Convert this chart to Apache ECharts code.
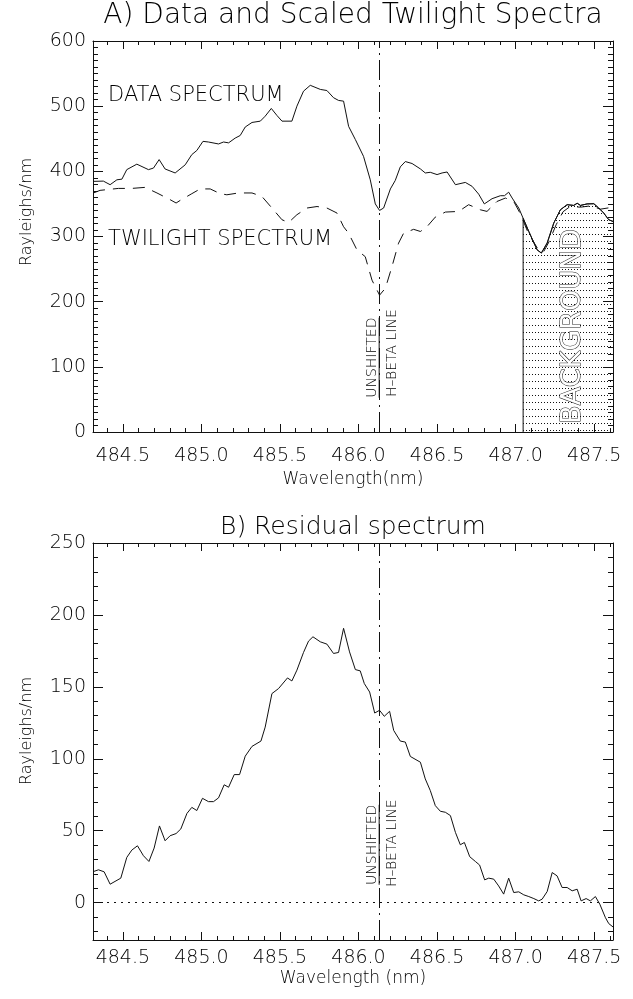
<!DOCTYPE html>
<html><head><meta charset="utf-8">
<script src="https://cdn.jsdelivr.net/npm/echarts@6.0.0/dist/echarts.min.js"></script>
<style>html,body{margin:0;padding:0;background:#fff}#c{width:633px;height:999px}</style>
</head><body><div id="c"></div>
<script>
// ---------------- data ----------------
const xTicks = [484.5, 485.0, 485.5, 486.0, 486.5, 487.0, 487.5];
const yTicksA = [0, 100, 200, 300, 400, 500, 600];
const yTicksB = [0, 50, 100, 150, 200, 250];
const HBETA = 486.133;
const BG_START = 487.048;

const dataWl = [484.313,484.376,484.419,484.462,484.494,484.525,484.589,484.663,484.695,484.731,484.769,484.833,484.897,484.939,484.971,485.010,485.045,485.109,485.141,485.173,485.215,485.247,485.279,485.322,485.375,485.406,485.445,485.481,485.513,485.576,485.608,485.650,485.693,485.757,485.799,485.841,485.873,485.905,485.937,485.980,486.032,486.075,486.107,486.134,486.160,486.203,486.234,486.266,486.298,486.341,486.394,486.425,486.457,486.500,486.532,486.564,486.617,486.680,486.723,486.765,486.801,486.850,486.903,486.929,486.956,486.978,487.020,487.048,487.084,487.137,487.164,487.201,487.243,487.285,487.328,487.370,487.392,487.413,487.455,487.498,487.529,487.561,487.593,487.621];
const dataVal = [384.6,385,379.5,387,388,402.6,411,402.6,405,418,403.6,397.5,410,425.7,432,446,445,442,445,443.7,451,455,468,475,477,484.6,496.5,485.7,477,477,500,523,532,525.7,524,513,508.8,507.7,469,448.8,423,387,350,340,343.7,373,386,406.8,415,412,403.7,397.5,398.5,395,397.5,399,379.5,383,377,365,350,358,362.6,362.6,368,359,343.7,328,307.7,279.5,274.6,290,320.6,341,348.8,347.7,351,347.7,350,350.3,343.7,336,325.7,323];

const twiWl = [484.313,484.355,484.472,484.557,484.642,484.717,484.801,484.839,484.865,484.939,484.992,485.056,485.120,485.162,485.236,485.322,485.385,485.449,485.513,485.555,485.608,485.672,485.736,485.799,485.863,485.905,485.937,485.990,486.043,486.086,486.134,486.171,486.213,486.255,486.287,486.351,486.394,486.436,486.489,486.553,486.638,486.701,486.776,486.818,486.882,486.935,486.988,487.030,487.081,487.139,487.177,487.213,487.258,487.302,487.347,487.413,487.477,487.541,487.621];
const twiVal = [366.8,370.8,373.8,373.8,375.4,366.8,356.5,351.4,355.4,365.7,373,373,365.7,364,366.8,366.8,361.5,343.7,325.7,321.5,333.4,343.7,346,343.7,336,315,305,279.5,269,233,210,220.6,253.8,289.8,305,311,307.7,315,329.8,337.5,338.5,348.8,341,338.5,353.8,359,353.8,335,305,282,276,292,318,338,346,345,347,342,345];

const resWl = [484.313,484.345,484.381,484.419,484.487,484.525,484.557,484.593,484.631,484.666,484.699,484.733,484.769,484.801,484.839,484.869,484.908,484.939,484.971,485.007,485.045,485.077,485.109,485.145,485.173,485.209,485.243,485.279,485.322,485.379,485.406,485.449,485.491,485.548,485.576,485.608,485.650,485.682,485.710,485.757,485.799,485.841,485.873,485.905,485.943,485.980,486.011,486.037,486.071,486.103,486.134,486.164,486.198,486.224,486.266,486.298,486.330,486.394,486.425,486.457,486.489,486.521,486.553,486.585,486.617,486.648,486.674,486.708,486.744,486.771,486.803,486.829,486.861,486.892,486.924,486.956,486.988,487.020,487.052,487.084,487.116,487.147,487.169,487.201,487.233,487.264,487.296,487.328,487.360,487.392,487.417,487.449,487.476,487.508,487.536,487.572,487.593,487.621];
const resVal = [21.6,22.8,21.4,12.8,17,31.4,36.5,39.5,32.6,28.6,37.9,53.3,43,46.5,48,51.2,62,66.2,64,72.5,70.2,70.2,72.8,81.9,80.2,89,89,101.8,108.6,112.3,122,145.3,148.8,156.2,154.1,161.6,173.9,181.8,184.8,181.3,179.7,173.2,173.9,190.7,174.3,162,161.1,152.3,146.4,131.8,133.7,129.5,133,119.7,112.3,111.6,101.6,97.6,86,77.9,67.4,63.5,62.8,60.5,48.8,40.2,41.8,31.9,28.6,26.1,15.8,17,16.3,11.6,5.9,17,7,7.5,5.4,4.2,2.8,1.2,2.4,7.7,20.9,18.6,10.5,10.5,8.2,9.3,1.2,2.8,1.2,4.2,-1.1,-10.5,-14.6,-17];

// ---------------- setup ----------------
const FONT = 'DejaVu Sans';
const FW = 200;
const INK = '#111';
const TXT = '#000';
const X_MIN = 484.31, X_MAX = 487.62;
const YA_MIN = 0, YA_MAX = 600;
const YB_MIN = -26, YB_MAX = 250;

function steps(a, b, step) {
  const out = [];
  for (let k = Math.ceil(a / step - 1e-9); k * step <= b + 1e-9; k++) out.push(Math.round(k * step * 1000) / 1000);
  return out;
}
const pairs = (xs, ys) => xs.map((x, i) => [x, ys[i]]);

function mkAxes(dim, gridIndex, min, max, major, minor, majLen, minLen, labelCfg, nameCfg) {
  const positions = dim === 'x' ? ['bottom', 'top'] : ['left', 'right'];
  const axes = [];
  positions.forEach((pos, pi) => {
    const lab = pi === 0;
    axes.push(Object.assign({
      type: 'value', gridIndex, min, max, position: pos,
      axisLine: { show: true, onZero: false, lineStyle: { color: INK, width: 1 } },
      axisTick: { show: true, inside: true, length: majLen, customValues: major, lineStyle: { color: INK, width: 1 } },
      axisLabel: lab ? Object.assign({ show: true, customValues: major, color: TXT, fontFamily: FONT, fontWeight: FW, fontSize: 19 }, labelCfg) : { show: false },
      splitLine: { show: false }
    }, lab ? nameCfg : {}));
    axes.push({
      type: 'value', gridIndex, min, max, position: pos,
      axisLine: { show: false, onZero: false },
      axisTick: { show: true, inside: true, length: minLen, customValues: minor, lineStyle: { color: INK, width: 1 } },
      axisLabel: { show: false }, splitLine: { show: false }
    });
  });
  return axes;
}

const xMinor = steps(X_MIN, X_MAX, 0.1);
const fmt1 = v => v.toFixed(1);
const nameStyle = (size, pad) => ({ color: TXT, fontFamily: FONT, fontWeight: FW, fontSize: size, padding: pad || 0 });

const xAxis = [].concat(
  mkAxes('x', 0, X_MIN, X_MAX, xTicks, xMinor, 8, 4, { margin: 15, formatter: fmt1 },
    { name: 'Wavelength(nm)', nameLocation: 'middle', nameGap: 39, nameTextStyle: nameStyle(17) }),
  mkAxes('x', 1, X_MIN, X_MAX, xTicks, xMinor, 8, 4, { margin: 9, formatter: fmt1 },
    { name: 'Wavelength (nm)', nameLocation: 'middle', nameGap: 30, nameTextStyle: nameStyle(17) })
);
const yAxis = [].concat(
  mkAxes('y', 0, YA_MIN, YA_MAX, yTicksA, steps(YA_MIN, YA_MAX, 10), 10, 5, { margin: 7 },
    { name: 'Rayleighs/nm', nameLocation: 'middle', nameGap: 58, nameTextStyle: nameStyle(16, [0, 0, 0, 49]) }),
  mkAxes('y', 1, YB_MIN, YB_MAX, yTicksB, steps(YB_MIN, YB_MAX, 10), 10, 5, { margin: 7 },
    { name: 'Rayleighs/nm', nameLocation: 'middle', nameGap: 58, nameTextStyle: nameStyle(16, [0, 0, 0, 21]) })
);

// dotted fill pattern for background region
const pat = document.createElement('canvas');
pat.width = 3; pat.height = 7;
const pctx = pat.getContext('2d');
pctx.fillStyle = '#111';
pctx.fillRect(1, 3, 1, 1);

const bgPairs = [[BG_START, 0]].concat(pairs(dataWl, dataVal).filter(p => p[0] >= BG_START - 1e-9));

const hbetaLine = (extra) => ({
  silent: true, symbol: ['none', 'none'], label: { show: false }, animation: false,
  data: [{ xAxis: HBETA, lineStyle: { color: INK, width: 1, type: [20, 5, 2, 5] } }].concat(extra || [])
});

const chart = echarts.init(document.getElementById('c'), null, { renderer: 'canvas' });
chart.setOption({
  animation: false,
  backgroundColor: '#fff',
  title: [
    { text: 'A) Data and Scaled Twilight Spectra', left: 353, top: 2, textAlign: 'center', padding: 0,
      textStyle: { fontFamily: FONT, fontSize: 28, fontWeight: FW, color: TXT } },
    { text: 'B) Residual spectrum', left: 353, top: 515, textAlign: 'center', padding: 0,
      textStyle: { fontFamily: FONT, fontSize: 25, fontWeight: FW, color: TXT } }
  ],
  grid: [
    { left: 93, top: 41, width: 520, height: 391 },
    { left: 93, top: 543, width: 520, height: 397 }
  ],
  xAxis, yAxis,
  series: [
    { name: 'Background', type: 'line', xAxisIndex: 0, yAxisIndex: 0, data: bgPairs, symbol: 'none',
      lineStyle: { color: INK, width: 1 }, areaStyle: { color: { image: pat, repeat: 'repeat' }, opacity: 1 }, z: 1 },
    { name: 'Data spectrum', type: 'line', xAxisIndex: 0, yAxisIndex: 0, data: pairs(dataWl, dataVal), symbol: 'none',
      lineStyle: { color: INK, width: 1 }, markLine: hbetaLine(), z: 3 },
    { name: 'Twilight spectrum', type: 'line', xAxisIndex: 0, yAxisIndex: 0, data: pairs(twiWl, twiVal), symbol: 'none',
      lineStyle: { color: INK, width: 1, type: [12, 8] }, z: 3 },
    { name: 'Residual spectrum', type: 'line', xAxisIndex: 4, yAxisIndex: 4, data: pairs(resWl, resVal), symbol: 'none',
      lineStyle: { color: INK, width: 1 },
      markLine: hbetaLine([{ yAxis: 0, lineStyle: { color: INK, width: 1, type: [2, 5] } }]), z: 3 }
  ]
});

// ---------------- annotations placed in data coordinates ----------------
function px(gi, x, y) {
  return chart.convertToPixel({ xAxisIndex: gi * 4, yAxisIndex: gi * 4 }, [x, y]);
}
function txt(gi, x, y, text, size, opts) {
  const p = px(gi, x, y);
  return Object.assign({
    type: 'text', x: p[0], y: p[1], silent: true, z: 50,
    style: Object.assign({ text, fill: TXT, fontFamily: FONT, fontWeight: FW, fontSize: size, align: 'left', verticalAlign: 'middle' }, (opts && opts.style) || {})
  }, (opts && opts.el) || {});
}
const ROT = Math.PI / 2;
function underline(gi, x, y, half) {
  const p = px(gi, x, y);
  return { type: 'line', silent: true, z: 50, shape: { x1: p[0] + 7, y1: p[1] - half, x2: p[0] + 7, y2: p[1] + half }, style: { stroke: INK, lineWidth: 1 } };
}
chart.setOption({
  graphic: [
    txt(0, 484.406, 516, 'DATA SPECTRUM', 21),
    txt(0, 484.406, 295, 'TWILIGHT SPECTRUM', 21),
    txt(0, 487.363, 162, 'BACKGROUND', 27, { el: { rotation: ROT }, style: { align: 'center', fontWeight: 'normal', fill: '#fff', stroke: INK, lineWidth: 1 } }),
    txt(0, 486.087, 114, 'UNSHIFTED', 14, { el: { rotation: ROT }, style: { align: 'center' } }),
    underline(0, 486.087, 114, 40),
    txt(0, 486.216, 121, 'H\u2013BETA LINE', 14, { el: { rotation: ROT }, style: { align: 'center' } }),
    txt(1, 486.087, 40.2, 'UNSHIFTED', 14, { el: { rotation: ROT }, style: { align: 'center' } }),
    underline(1, 486.087, 40.2, 40),
    txt(1, 486.216, 41.3, 'H\u2013BETA LINE', 14, { el: { rotation: ROT }, style: { align: 'center' } })
  ]
});
</script></body></html>
